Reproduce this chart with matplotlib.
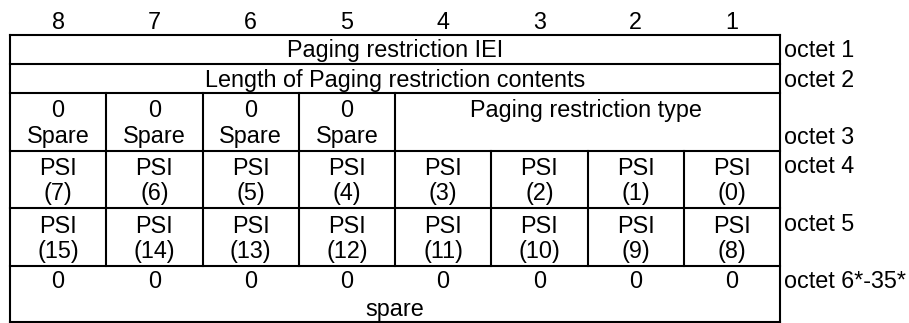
import matplotlib
matplotlib.use("Agg")
import matplotlib.pyplot as plt

plt.rcParams["font.family"] = ["Liberation Sans", "DejaVu Sans"]

# bit numbers over the columns (left to right)
bit_labels = ["8", "7", "6", "5", "4", "3", "2", "1"]
# octet labels on the right of each row
octet_labels = ["octet 1", "octet 2", "octet 3", "octet 4", "octet 5",
                "octet 6*-35*"]
iei_text = "Paging restriction IEI"
length_text = "Length of Paging restriction contents"
type_text = "Paging restriction type"
spare_bits = ["0", "0", "0", "0"]
psi_octet4 = ["(7)", "(6)", "(5)", "(4)", "(3)", "(2)", "(1)", "(0)"]
psi_octet5 = ["(15)", "(14)", "(13)", "(12)", "(11)", "(10)", "(9)", "(8)"]
spare_octet6 = ["0"] * 8

# layout in pixels
W, H = 909, 323
x0, x1 = 10, 780
row_edges = [35, 64, 93, 151, 208, 266, 322]
cw = (x1 - x0) / 8
col_edges = [x0 + i * cw for i in range(9)]
col_mid = [x0 + (i + 0.5) * cw for i in range(8)]
fs = 16.8
lw = 1.5

fig = plt.figure(figsize=(W / 100, H / 100), dpi=100)
ax = fig.add_axes([0, 0, 1, 1])
ax.set_xlim(0, W)
ax.set_ylim(H, 0)
ax.axis("off")

def hline(y):
    ax.plot([x0, x1], [y, y], color="black", lw=lw, solid_capstyle="projecting")

def vline(x, ya, yb):
    ax.plot([x, x], [ya, yb], color="black", lw=lw, solid_capstyle="projecting")

for y in row_edges:
    hline(y)
vline(x0, row_edges[0], row_edges[-1])
vline(x1, row_edges[0], row_edges[-1])
# octet 3: spare bits split in 4 cells
for i in range(1, 5):
    vline(col_edges[i], row_edges[2], row_edges[3])
# octets 4 and 5: 8 cells
for i in range(1, 8):
    vline(col_edges[i], row_edges[3], row_edges[5])

def txt(x, y, s, ha="center"):
    ax.text(x, y, s, ha=ha, va="baseline", fontsize=fs, color="black")

for xm, s in zip(col_mid, bit_labels):
    txt(xm, 29, s)

mid = (x0 + x1) / 2
txt(mid, 57, iei_text)
txt(mid, 87, length_text)

for i, s in enumerate(spare_bits):
    txt(col_mid[i], 117, s)
    txt(col_mid[i], 143, "Spare")
txt((col_edges[4] + x1) / 2 - 2, 117, type_text)

for i, s in enumerate(psi_octet4):
    txt(col_mid[i], 175, "PSI")
    txt(col_mid[i], 200, s)
for i, s in enumerate(psi_octet5):
    txt(col_mid[i], 233, "PSI")
    txt(col_mid[i], 258, s)
for i, s in enumerate(spare_octet6):
    txt(col_mid[i], 288, s)
txt(mid, 316, "spare")

octet_y = [57, 87, 144, 173, 231, 288]
for y, s in zip(octet_y, octet_labels):
    txt(784, y, s, ha="left")

fig.savefig("out.png", dpi=100)
